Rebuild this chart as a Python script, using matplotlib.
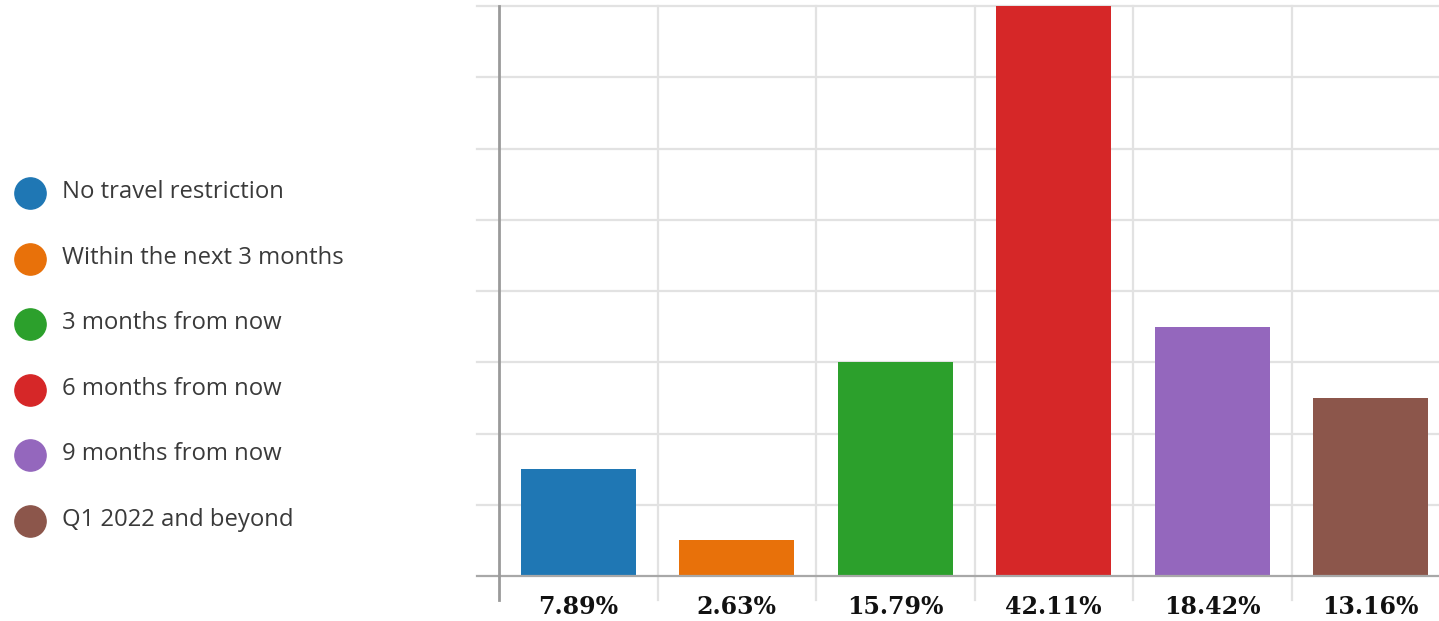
import matplotlib
matplotlib.use("Agg")
import matplotlib.pyplot as plt
from matplotlib.lines import Line2D
import numpy as np

# Survey answers: when travel is expected to resume
categories = [
    "No travel restriction",
    "Within the next 3 months",
    "3 months from now",
    "6 months from now",
    "9 months from now",
    "Q1 2022 and beyond",
]
shares = [7.89, 2.63, 15.79, 42.11, 18.42, 13.16]
bar_colors = ["#1f77b4", "#e8710a", "#2ca02c", "#d62728", "#9467bd", "#8c564b"]
value_labels = [f"{v:.2f}%" for v in shares]

W, H = 1439, 621
fig = plt.figure(figsize=(W / 100, H / 100), dpi=100)
fig.patch.set_facecolor("white")

# plot area (the last column runs past the right edge of the canvas)
left_px, right_px, top_px, base_px = 499, 1450, 6, 576
ax = fig.add_axes([left_px / W, (H - base_px) / H,
                   (right_px - left_px) / W, (base_px - top_px) / H])

x = np.arange(len(categories))
ymax = max(shares)
ax.set_xlim(-0.5, len(categories) - 0.5)
ax.set_ylim(0, ymax)

grid_c = "#e2e2e2"
axis_c = "#a8a8a8"
ext_down = 24 / (base_px - top_px)      # lines run a little below the baseline
ext_left = 22 / (right_px - left_px)    # and a little left of the y axis

# horizontal grid
for yv in np.linspace(0, ymax, 9)[1:]:
    ax.axhline(yv, xmin=-ext_left, xmax=1, color=grid_c, lw=1.6,
               clip_on=False, zorder=0)
# vertical grid at column boundaries
for xv in np.arange(-0.5, len(categories), 1.0)[1:]:
    ax.axvline(xv, ymin=-ext_down, ymax=1, color=grid_c, lw=1.6,
               clip_on=False, zorder=0)
# axis lines
ax.axhline(0, xmin=-ext_left, xmax=1, color=axis_c, lw=1.6,
           clip_on=False, zorder=3)
ax.axvline(-0.5, ymin=-ext_down, ymax=1, color="#9a9a9a", lw=2.0,
           clip_on=False, zorder=3)

ax.bar(x, shares, width=0.725, color=bar_colors, zorder=2)

for s in ax.spines.values():
    s.set_visible(False)
ax.set_xticks([])
ax.set_yticks([])
ax.set_facecolor("none")

# value labels under each column
label_y = -31 / (base_px - top_px) * ymax
for xi, txt in zip(x, value_labels):
    ax.text(xi, label_y, txt, ha="center", va="center",
            fontsize=17, fontweight="heavy", family="DejaVu Serif",
            color="#111111", clip_on=False)

# legend column on the left
row0, row_step = 193, 65.6
for i, (name, col) in enumerate(zip(categories, bar_colors)):
    yc = 1 - (row0 + i * row_step) / H
    fig.add_artist(Line2D([29.5 / W], [yc], marker="o", markersize=22.5,
                          color=col, linestyle="none",
                          transform=fig.transFigure))
    fig.text(62 / W, yc + 1 / H, name, ha="left", va="center",
             fontsize=17.2, family="Open Sans", color="#3a3a3a")

fig.savefig("out.png", dpi=100, facecolor="white")
